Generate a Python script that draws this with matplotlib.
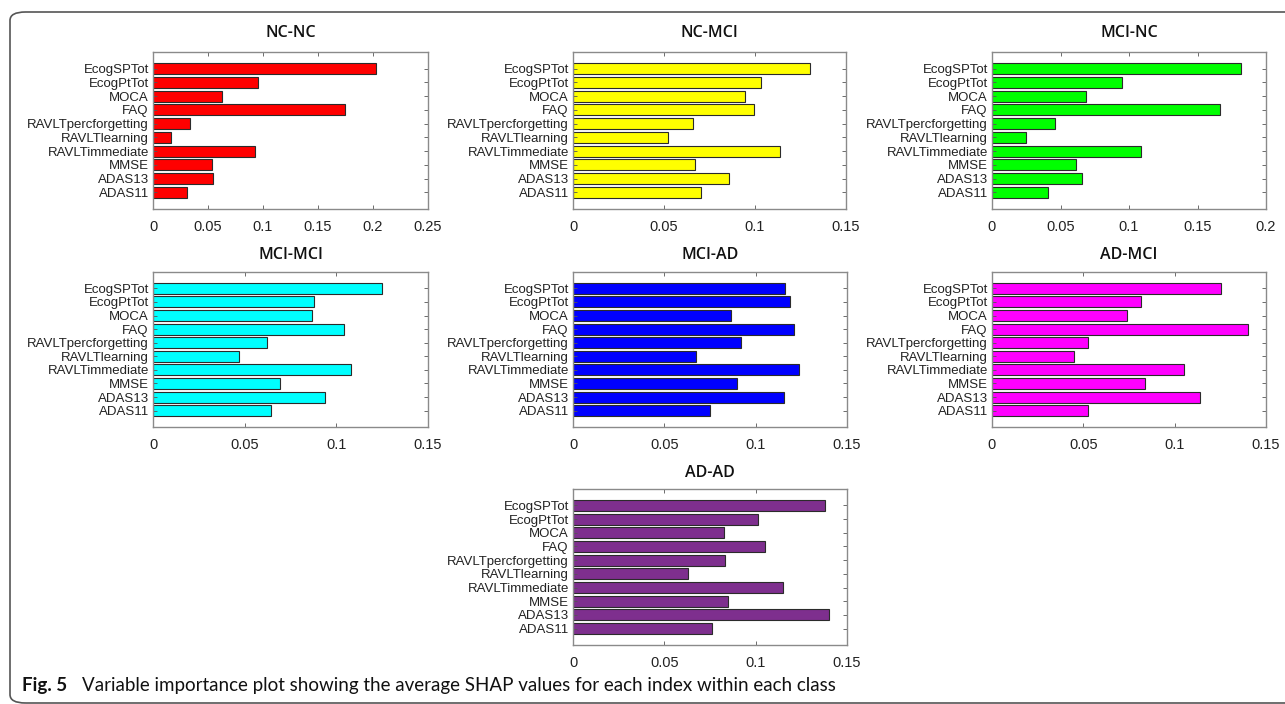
# -*- coding: utf-8 -*-
"""
Average SHAP values of each index, one horizontal bar panel per class pair.
"""

import matplotlib
matplotlib.use("Agg")
import matplotlib.pyplot as plt
from matplotlib.patches import FancyBboxPatch

W, H = 1285, 704

FEATURES = [
    "EcogSPTot", "EcogPtTot", "MOCA", "FAQ", "RAVLTpercforgetting",
    "RAVLTlearning", "RAVLTimmediate", "MMSE", "ADAS13", "ADAS11",
]

# panel titles and per-class mean |SHAP| (same order as FEATURES)
CLASSES = ["NC-NC", "NC-MCI", "MCI-NC", "MCI-MCI", "MCI-AD", "AD-MCI", "AD-AD"]
NC_NC = [0.2024, 0.0958, 0.0624, 0.1742, 0.0336, 0.0161, 0.0924, 0.0536, 0.0542, 0.0309]
NC_MCI = [0.1301, 0.1032, 0.0945, 0.0994, 0.0660, 0.0523, 0.1135, 0.0672, 0.0859, 0.0705]
MCI_NC = [0.1815, 0.0948, 0.0688, 0.1667, 0.0457, 0.0250, 0.1091, 0.0612, 0.0654, 0.0406]
MCI_MCI = [0.1247, 0.0876, 0.0868, 0.1043, 0.0623, 0.0470, 0.1081, 0.0690, 0.0939, 0.0644]
MCI_AD = [0.1161, 0.1186, 0.0863, 0.1212, 0.0918, 0.0672, 0.1237, 0.0896, 0.1157, 0.0748]
AD_MCI = [0.1251, 0.0817, 0.0737, 0.1404, 0.0526, 0.0448, 0.1050, 0.0837, 0.1138, 0.0526]
AD_AD = [0.1381, 0.1012, 0.0826, 0.1049, 0.0831, 0.0632, 0.1151, 0.0848, 0.1401, 0.0760]
VALUES = [NC_NC, NC_MCI, MCI_NC, MCI_MCI, MCI_AD, AD_MCI, AD_AD]

XTICKS = [
    [0, 0.05, 0.1, 0.15, 0.2, 0.25],
    [0, 0.05, 0.1, 0.15],
    [0, 0.05, 0.1, 0.15, 0.2],
    [0, 0.05, 0.1, 0.15],
    [0, 0.05, 0.1, 0.15],
    [0, 0.05, 0.1, 0.15],
    [0, 0.05, 0.1, 0.15],
]
XTICKLABELS = [[("%g" % t) for t in ticks] for ticks in XTICKS]

COLORS = ["#ff0000", "#ffff00", "#00ff00", "#00ffff", "#0000ff", "#ff00ff", "#7e2f8e"]

# axes boxes in pixels: left, top, right, bottom
BOXES = [
    (153, 52, 428, 209),
    (573, 52, 846, 209),
    (992, 52, 1266, 209),
    (153, 272, 428, 427),
    (573, 272, 847, 427),
    (992, 272, 1266, 427),
    (573, 489, 847, 645),
]
TITLE_Y = [33, 33, 33, 255, 255, 255, 473]

CAPTION = "Variable importance plot showing the average SHAP values for each index within each class"


def draw_panel(fig, box, title, title_y, vals, color, ticks, ticklabels):
    l, t, r, b = box
    ax = fig.add_axes([l / W, 1 - b / H, (r - l) / W, (b - t) / H])
    pos = list(range(1, len(vals) + 1))
    ax.barh(pos, vals, height=0.8, color=color, edgecolor="#2b2b2b", linewidth=0.8)
    ax.set_ylim(11.2, -0.2)
    ax.set_xlim(ticks[0], ticks[-1])
    ax.set_yticks(pos)
    ax.set_yticklabels(FEATURES, fontsize=9.5, family="Liberation Sans", color="#222222")
    ax.set_xticks(ticks)
    ax.set_xticklabels(ticklabels, fontsize=10.5, family="Liberation Sans", color="#222222")
    ax.tick_params(axis="both", direction="in", length=3, width=0.6, color="#555555",
                   top=True, right=True)
    ax.tick_params(axis="y", pad=3)
    ax.tick_params(axis="x", pad=8)
    for sp in ax.spines.values():
        sp.set_color("#8a8a8a")
        sp.set_linewidth(1.0)
    fig.text((l + r) / 2 / W, 1 - title_y / H, title, ha="center", va="center",
             fontsize=11.5, family="Open Sans", fontweight="semibold", color="#111111")
    return ax


def main():
    fig = plt.figure(figsize=(W / 100, H / 100), dpi=100)

    # rounded frame around the figure body
    frame = FancyBboxPatch((10 / W, 1 / H), 1.2, 1 - 13 / H,
                           boxstyle="round,pad=0,rounding_size=0.012",
                           transform=fig.transFigure, fill=False,
                           edgecolor="#555555", linewidth=1.2, clip_on=False)
    fig.add_artist(frame)

    for i in range(len(CLASSES)):
        draw_panel(fig, BOXES[i], CLASSES[i], TITLE_Y[i], VALUES[i], COLORS[i],
                   XTICKS[i], XTICKLABELS[i])

    fig.text(22 / W, 1 - 685 / H, "Fig. 5", ha="left", va="center", fontsize=13.5,
             family="Lato", fontweight="bold", color="#111111")
    fig.text(82 / W, 1 - 685 / H, CAPTION, ha="left", va="center", fontsize=13.5,
             family="Lato", color="#111111")

    fig.savefig("out.png", dpi=100)
    plt.close(fig)


if __name__ == "__main__":
    main()
